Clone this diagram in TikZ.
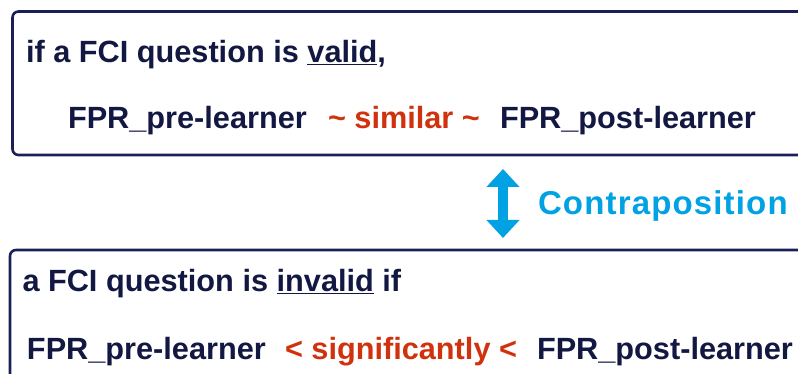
\documentclass[tikz,border=0pt]{standalone}
\usepackage{fontspec}
\setmainfont{Liberation Sans}
\usetikzlibrary{arrows.meta}
\definecolor{navy}{RGB}{18,24,66}
\definecolor{boxline}{RGB}{26,32,86}
\definecolor{redtxt}{RGB}{208,50,14}
\definecolor{cyanarrow}{RGB}{0,162,227}
\tikzset{
  txt/.style={anchor=base west, inner sep=0pt, outer sep=0pt, font=\fontsize{30.7}{36}\selectfont\bfseries, text=navy},
  redt/.style={txt, text=redtxt},
  frame/.style={draw=boxline, line width=2.6pt, rounded corners=6pt},
  dblarrow/.style={cyanarrow, line width=10pt, {Triangle[width=32pt,length=18pt]}-{Triangle[width=32pt,length=18pt]}}
}
\begin{document}
\begin{tikzpicture}[x=1pt,y=1pt]
\useasboundingbox (0,0) rectangle (798,374);
\clip (0,0) rectangle (798,374);
% boxes
\draw[frame] (12.5,362.5) rectangle (812,219);
\draw[frame] (10,124) rectangle (812,-20);
% top box text
\node[txt] (t1) at (26,311) {if a FCI question is \underline{valid},};
\node[txt] (t2a) at (68,245) {FPR\_pre-learner};
\node[redt] (t2b) at (328,245) {\textasciitilde{} similar \textasciitilde};
\node[txt] (t2c) at (500,245) {FPR\_post-learner};
% arrow
\coordinate (aT) at (503,205);
\coordinate (aB) at (503,136);
\draw[dblarrow] (aT) -- (aB);
\node[txt, text=cyanarrow, font=\fontsize{33}{40}\selectfont\bfseries\addfontfeature{LetterSpace=3.5}] (cp) at (538,159) {Contraposition};
% bottom box text
\node[txt] (b1) at (22.5,82) {a FCI question is \underline{invalid} if};
\node[txt] (b2a) at (27,14) {FPR\_pre-learner};
\node[redt] (b2b) at (285,14) {< significantly <};
\node[txt] (b2c) at (537,14) {FPR\_post-learner};
\end{tikzpicture}
\end{document}
